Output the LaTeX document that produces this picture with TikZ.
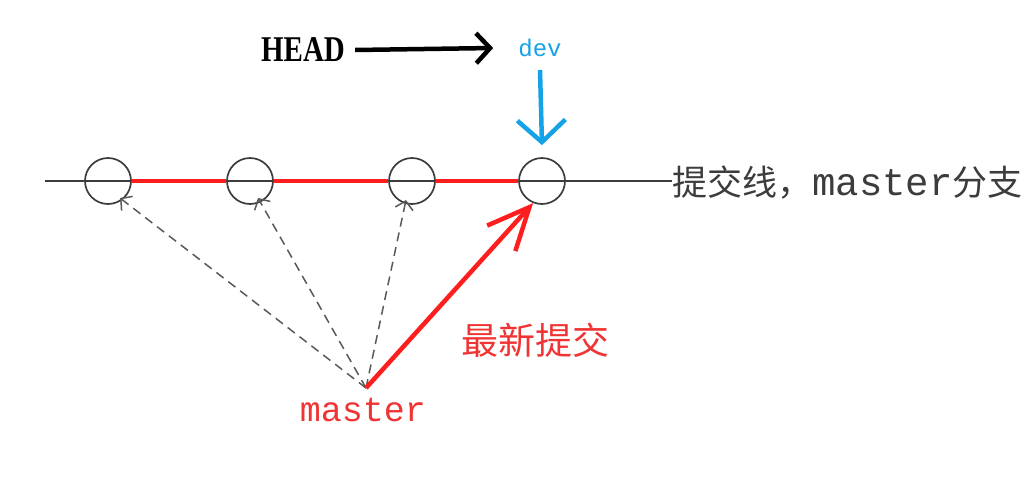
\documentclass[tikz,border=0pt]{standalone}
\usepackage{fontspec}
\setmainfont{Liberation Serif}
\newfontfamily\cjk{Noto Sans CJK SC}
\newfontfamily\monof{Liberation Mono}
\usetikzlibrary{arrows.meta}
\definecolor{devblue}{HTML}{16A2E6}
\definecolor{hred}{HTML}{FF1E1E}
\definecolor{tred}{HTML}{F03434}
\definecolor{lgray}{HTML}{3C3C3C}
\tikzset{
  commit/.style={draw=lgray, line width=1.7pt, circle, minimum size=46pt, inner sep=0pt},
  oldptr/.style={draw=lgray!85, line width=1.5pt, dash pattern=on 9pt off 6pt, -{Straight Barb[length=8pt,width=18pt,line width=1.5pt]}},
  redline/.style={draw=hred, line width=4.5pt},
}
\begin{document}
\begin{tikzpicture}[x=1pt,y=-1pt]
\useasboundingbox (0,0) rectangle (1035,485);
% commit line
\coordinate (lstart) at (45,181);
\node[anchor=west, inner sep=0pt, text=lgray] (lbl) at (672,183) {\fontsize{35}{35}\selectfont\cjk 提交线，\monof\fontsize{39}{39}\selectfont master\cjk\fontsize{35}{35}\selectfont 分支};
\draw[lgray, line width=1.7pt] (lstart) -- (lbl.west |- lstart);
\node[commit] (c1) at (108,181) {};
\node[commit] (c2) at (250,181) {};
\node[commit] (c3) at (412,181) {};
\node[commit] (c4) at (542,181) {};
\draw[redline] (c1.east) -- (c2.west);
\draw[redline] (c2.east) -- (c3.west);
\draw[redline] (c3.east) -- (c4.west);
% HEAD -> dev
\node[inner sep=0pt] (head) at (303,50) {\scalebox{1}[1.25]{\fontsize{29}{29}\selectfont\bfseries HEAD}};
\node[inner sep=0pt, text=devblue] (dev) at (540,48) {\monof\fontsize{24}{24}\selectfont dev};
\draw[line width=4.5pt, -{Straight Barb[length=14pt,width=30pt,line width=4.5pt]}] (head.east)+(10,0) -- ([xshift=-25pt]dev.west);
\coordinate (devtop) at (540,70);
\draw[devblue, line width=4.5pt, -{Straight Barb[length=22pt,width=48pt,line width=4.5pt]}] (devtop) -- ([yshift=12pt]c4.north);
% master
\coordinate (m) at (366,388);
\node[inner sep=0pt, text=tred] (mtxt) at (363,410) {\monof\fontsize{35}{35}\selectfont master};
\draw[oldptr] (m) -- (120,198);
\draw[oldptr] (m) -- (258,198);
\draw[oldptr] (m) -- (406,200);
\draw[hred, line width=4.5pt, -{Straight Barb[length=42pt,width=38pt,line width=4.5pt]}] (m) -- (c4.-112);
\node[inner sep=0pt, text=tred] (newest) at (535,340) {\cjk\fontsize{37}{37}\selectfont 最新提交};
\end{tikzpicture}
\end{document}
